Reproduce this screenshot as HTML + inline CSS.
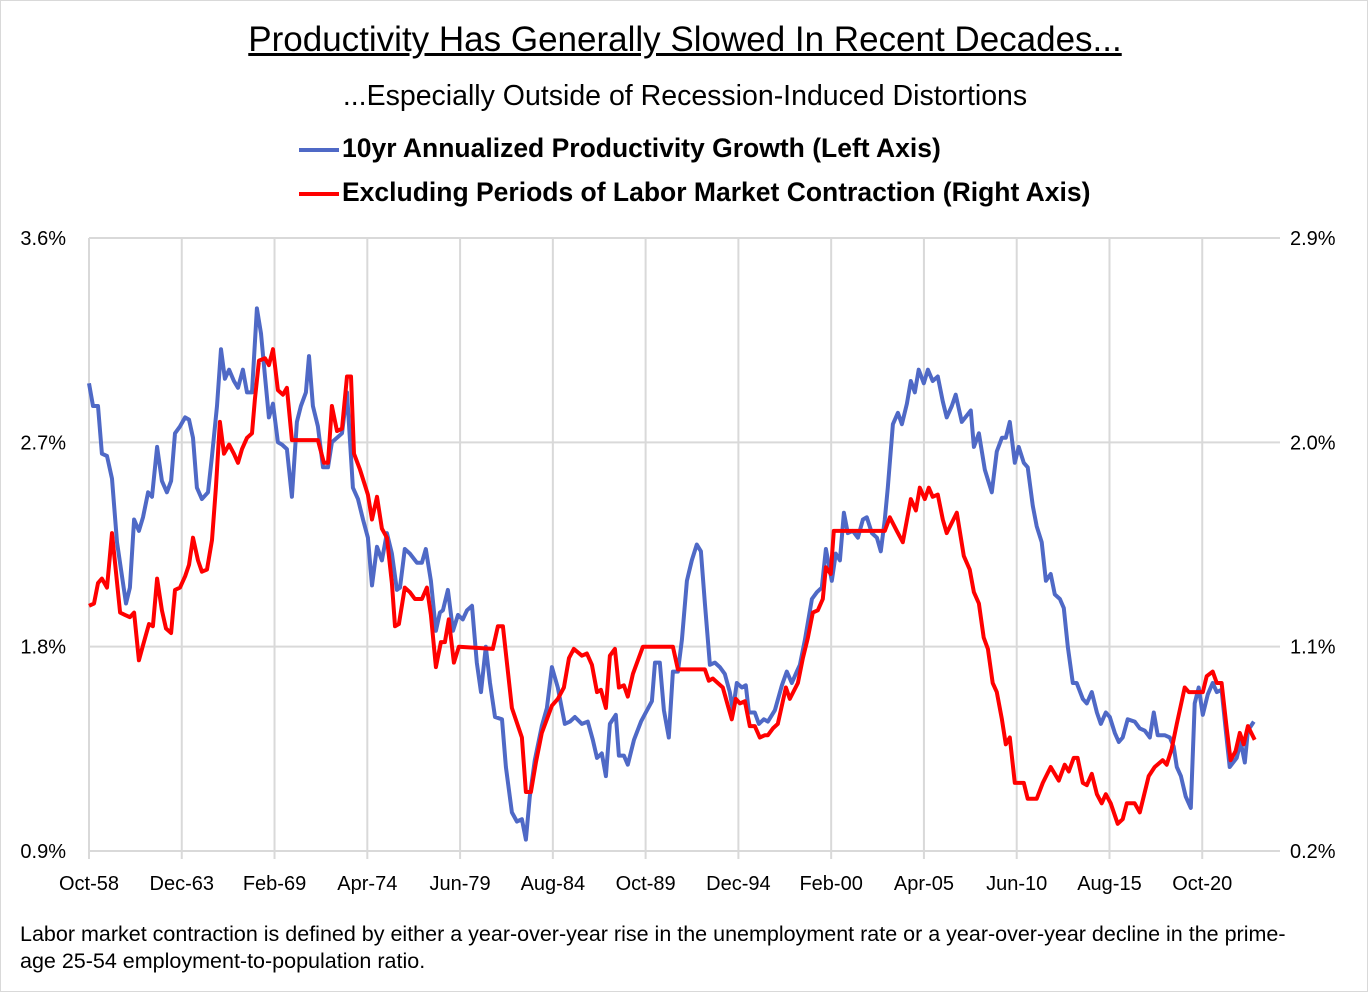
<!DOCTYPE html>
<html><head><meta charset="utf-8"><style>
body{margin:0;background:#fff;}
#wrap{position:relative;width:1366px;height:990px;border:1px solid #d9d9d9;font-family:"Liberation Sans",sans-serif;color:#000;overflow:hidden;}
.t{position:absolute;white-space:nowrap;}
</style></head><body>
<div id="wrap">
<div class="t" style="left:0;width:1368px;text-align:center;top:19px;font-size:35px;text-decoration:underline;">Productivity Has Generally Slowed In Recent Decades...</div>
<div class="t" style="left:0;width:1368px;text-align:center;top:79px;font-size:28.5px;">...Especially Outside of Recession-Induced Distortions</div>
<div class="t" style="left:298px;top:132px;font-size:26.5px;font-weight:bold;"><span style="display:inline-block;width:40px;height:4px;background:#4f69c6;vertical-align:middle;margin-right:3px;"></span>10yr Annualized Productivity Growth (Left Axis)</div>
<div class="t" style="left:298px;top:176px;font-size:26.5px;font-weight:bold;"><span style="display:inline-block;width:40px;height:4px;background:#ff0000;vertical-align:middle;margin-right:3px;"></span>Excluding Periods of Labor Market Contraction (Right Axis)</div>
<svg id="plot" width="1368" height="992" style="position:absolute;left:-1px;top:-1px;"></svg>
<div class="t" style="left:19px;top:920px;font-size:21.5px;line-height:27px;">Labor market contraction is defined by either a year-over-year rise in the unemployment rate or a year-over-year decline in the prime-<br>age 25-54 employment-to-population ratio.</div>
</div>
<script>
const xTickLabels=["Oct-58","Dec-63","Feb-69","Apr-74","Jun-79","Aug-84","Oct-89","Dec-94","Feb-00","Apr-05","Jun-10","Aug-15","Oct-20"];
const xTickYears=[1958.75,1963.917,1969.083,1974.25,1979.417,1984.583,1989.75,1994.917,2000.083,2005.25,2010.417,2015.583,2020.75];
const leftTicks=[0.9,1.8,2.7,3.6];
const rightTicks=[0.2,1.1,2.0,2.9];
const blueDates=[1958.75,1958.97,1959.25,1959.47,1959.75,1960.03,1960.31,1960.59,1960.81,1961.03,1961.26,1961.53,1961.76,1962.04,1962.26,1962.54,1962.81,1963.09,1963.32,1963.54,1963.82,1964.10,1964.32,1964.54,1964.76,1965.04,1965.38,1965.60,1965.88,1966.10,1966.32,1966.55,1966.82,1967.05,1967.32,1967.55,1967.83,1968.10,1968.33,1968.55,1968.77,1969.00,1969.27,1969.50,1969.77,1970.05,1970.33,1970.55,1970.83,1971.00,1971.22,1971.50,1971.78,1972.06,1972.28,1972.56,1972.84,1973.12,1973.45,1973.73,1974.01,1974.28,1974.51,1974.79,1975.06,1975.34,1975.62,1975.90,1976.07,1976.34,1976.62,1977.01,1977.29,1977.51,1977.79,1978.07,1978.29,1978.46,1978.74,1979.02,1979.30,1979.57,1979.80,1980.08,1980.35,1980.58,1980.85,1981.08,1981.36,1981.75,1981.97,1982.30,1982.58,1982.86,1983.08,1983.30,1983.58,1983.97,1984.25,1984.53,1984.86,1985.25,1985.53,1985.81,1986.20,1986.53,1986.81,1987.04,1987.31,1987.54,1987.76,1988.09,1988.26,1988.54,1988.76,1989.10,1989.49,1989.76,1990.10,1990.27,1990.54,1990.77,1991.04,1991.27,1991.55,1991.77,1992.05,1992.32,1992.60,1992.83,1993.05,1993.33,1993.61,1993.88,1994.16,1994.44,1994.61,1994.83,1995.11,1995.33,1995.50,1995.83,1996.06,1996.33,1996.56,1996.95,1997.34,1997.61,1997.89,1998.17,1998.34,1998.62,1999.01,1999.29,1999.56,1999.79,2000.12,2000.34,2000.57,2000.79,2001.01,2001.29,2001.57,2001.85,2002.07,2002.35,2002.63,2002.85,2003.07,2003.24,2003.52,2003.80,2004.02,2004.30,2004.52,2004.74,2004.96,2005.24,2005.47,2005.74,2006.02,2006.30,2006.52,2006.80,2007.02,2007.36,2007.86,2008.03,2008.31,2008.64,2009.03,2009.31,2009.59,2009.81,2010.03,2010.31,2010.53,2010.81,2011.03,2011.31,2011.53,2011.81,2012.04,2012.31,2012.54,2012.82,2013.04,2013.26,2013.54,2013.76,2014.10,2014.32,2014.60,2014.88,2015.10,2015.38,2015.60,2015.88,2016.10,2016.32,2016.60,2016.99,2017.27,2017.55,2017.83,2018.05,2018.27,2018.66,2018.94,2019.16,2019.33,2019.56,2019.83,2020.11,2020.33,2020.55,2020.78,2021.06,2021.33,2021.56,2021.83,2022.06,2022.28,2022.67,2022.89,2023.12,2023.29,2023.62];
const blueValues=[2.96,2.86,2.86,2.65,2.64,2.54,2.26,2.11,1.99,2.06,2.36,2.31,2.37,2.48,2.46,2.68,2.53,2.48,2.53,2.74,2.77,2.81,2.80,2.72,2.50,2.45,2.48,2.64,2.86,3.11,2.98,3.02,2.97,2.94,3.02,2.92,2.92,3.29,3.18,2.99,2.81,2.87,2.70,2.69,2.67,2.46,2.79,2.86,2.92,3.08,2.86,2.77,2.59,2.59,2.70,2.72,2.74,2.92,2.50,2.45,2.36,2.28,2.07,2.24,2.18,2.30,2.21,2.05,2.06,2.23,2.21,2.17,2.17,2.23,2.09,1.87,1.95,1.96,2.05,1.87,1.94,1.92,1.96,1.98,1.73,1.60,1.80,1.64,1.49,1.48,1.27,1.07,1.03,1.04,0.95,1.14,1.30,1.45,1.53,1.71,1.62,1.46,1.47,1.49,1.46,1.47,1.39,1.31,1.33,1.23,1.46,1.50,1.32,1.32,1.28,1.39,1.47,1.51,1.56,1.73,1.73,1.52,1.40,1.69,1.69,1.83,2.09,2.18,2.25,2.22,1.99,1.72,1.73,1.71,1.68,1.60,1.52,1.64,1.62,1.63,1.51,1.51,1.46,1.48,1.47,1.52,1.63,1.69,1.64,1.69,1.72,1.83,2.01,2.04,2.06,2.23,2.09,2.21,2.18,2.39,2.30,2.31,2.28,2.36,2.37,2.30,2.28,2.22,2.36,2.50,2.78,2.83,2.78,2.87,2.97,2.92,3.02,2.96,3.02,2.97,2.99,2.88,2.81,2.86,2.91,2.79,2.84,2.68,2.74,2.58,2.48,2.66,2.72,2.72,2.79,2.61,2.68,2.61,2.59,2.42,2.33,2.26,2.09,2.12,2.03,2.01,1.97,1.80,1.64,1.64,1.57,1.55,1.60,1.51,1.46,1.51,1.49,1.42,1.38,1.40,1.48,1.47,1.44,1.43,1.40,1.51,1.41,1.41,1.40,1.36,1.27,1.23,1.14,1.09,1.55,1.62,1.50,1.59,1.64,1.60,1.61,1.43,1.27,1.31,1.38,1.29,1.43,1.47];
const redDates=[1958.75,1959.03,1959.25,1959.47,1959.75,1960.03,1960.48,1960.75,1961.03,1961.26,1961.53,1961.81,1962.09,1962.31,1962.54,1962.81,1963.04,1963.32,1963.54,1963.82,1964.10,1964.32,1964.54,1964.82,1965.04,1965.32,1965.60,1965.82,1966.04,1966.27,1966.55,1966.82,1967.05,1967.27,1967.55,1967.83,1967.99,1968.22,1968.55,1968.77,1969.00,1969.27,1969.55,1969.77,1970.05,1971.50,1971.83,1972.06,1972.28,1972.56,1972.84,1973.12,1973.34,1973.51,1973.84,1974.28,1974.51,1974.79,1975.06,1975.34,1975.62,1975.79,1976.01,1976.34,1976.62,1976.90,1977.29,1977.57,1977.79,1978.07,1978.35,1978.57,1978.79,1979.07,1979.35,1981.24,1981.52,1981.80,1982.30,1982.86,1983.08,1983.36,1983.64,1983.97,1984.53,1984.86,1985.20,1985.48,1985.75,1986.20,1986.48,1986.76,1987.04,1987.26,1987.54,1987.76,1988.04,1988.26,1988.54,1988.76,1989.04,1989.60,1990.54,1991.27,1991.55,1993.05,1993.27,1993.49,1994.05,1994.33,1994.55,1994.77,1995.00,1995.28,1995.55,1995.83,1996.11,1996.39,1996.56,1996.84,1997.11,1997.56,1997.78,1998.23,1998.51,1998.79,1999.06,1999.34,1999.62,1999.79,2000.06,2000.23,2003.07,2003.35,2003.74,2004.07,2004.52,2004.80,2005.02,2005.30,2005.52,2005.74,2006.02,2006.30,2006.52,2007.08,2007.47,2007.80,2008.03,2008.31,2008.58,2008.81,2009.08,2009.31,2009.59,2009.81,2010.03,2010.31,2010.81,2011.03,2011.53,2011.87,2012.31,2012.76,2013.09,2013.32,2013.59,2013.81,2014.10,2014.32,2014.60,2014.88,2015.15,2015.38,2015.65,2016.04,2016.32,2016.55,2016.99,2017.27,2017.49,2017.77,2018.10,2018.55,2018.77,2019.05,2019.33,2019.77,2020.00,2020.78,2021.00,2021.33,2021.56,2021.83,2022.11,2022.33,2022.61,2022.84,2023.06,2023.29,2023.67];
const redValues=[1.28,1.29,1.38,1.40,1.36,1.60,1.25,1.24,1.23,1.25,1.04,1.12,1.20,1.19,1.40,1.26,1.18,1.16,1.35,1.36,1.41,1.46,1.58,1.48,1.43,1.44,1.57,1.80,2.09,1.95,1.99,1.95,1.91,1.97,2.02,2.04,2.19,2.36,2.37,2.34,2.41,2.23,2.21,2.24,2.01,2.01,1.91,1.91,2.16,2.05,2.06,2.29,2.29,1.95,1.88,1.77,1.66,1.76,1.62,1.58,1.38,1.19,1.20,1.36,1.34,1.31,1.31,1.36,1.24,1.01,1.12,1.12,1.22,1.03,1.10,1.09,1.19,1.19,0.83,0.70,0.46,0.46,0.59,0.72,0.84,0.87,0.92,1.05,1.09,1.06,1.07,1.02,0.90,0.91,0.83,1.06,1.09,0.92,0.93,0.88,0.98,1.10,1.10,1.10,1.00,1.00,0.95,0.96,0.92,0.84,0.78,0.87,0.85,0.86,0.75,0.75,0.70,0.71,0.71,0.74,0.76,0.92,0.87,0.94,1.05,1.14,1.25,1.26,1.31,1.45,1.42,1.61,1.61,1.67,1.61,1.56,1.75,1.70,1.80,1.75,1.80,1.76,1.77,1.66,1.60,1.69,1.50,1.44,1.34,1.29,1.14,1.09,0.94,0.90,0.78,0.67,0.70,0.50,0.50,0.43,0.43,0.50,0.57,0.51,0.58,0.55,0.61,0.61,0.50,0.49,0.54,0.45,0.41,0.45,0.41,0.32,0.34,0.41,0.41,0.37,0.44,0.53,0.57,0.60,0.58,0.65,0.76,0.92,0.90,0.90,0.97,0.99,0.94,0.94,0.74,0.60,0.64,0.72,0.67,0.75,0.69];

const svg=document.getElementById('plot');
const NS='http://www.w3.org/2000/svg';
const X0=89,X1=1280,Y0=851,Y1=238,D0=1958.75,D1=2025.08;
const xs=d=>X0+(d-D0)/(D1-D0)*(X1-X0);
const yL=v=>Y0-(v-0.9)/(3.6-0.9)*(Y0-Y1);
const yR=v=>Y0-(v-0.2)/(2.9-0.2)*(Y0-Y1);
function mk(tag,attrs){const e=document.createElementNS(NS,tag);for(const k in attrs)e.setAttribute(k,attrs[k]);svg.appendChild(e);return e;}
leftTicks.forEach((v,i)=>{
  const g=mk('line',{x1:X0,x2:X1,y1:yL(v),y2:yL(v),stroke:'#d9d9d9','stroke-width':2});
  
  
  const t=mk('text',{x:66,y:yL(v)+7,'text-anchor':'end','font-size':20,'font-family':'Liberation Sans, sans-serif'});
  t.textContent=v.toFixed(1)+'%';
  
  
  const r=mk('text',{x:1290,y:yR(rightTicks[i])+7,'text-anchor':'start','font-size':20,'font-family':'Liberation Sans, sans-serif'});
  r.textContent=rightTicks[i].toFixed(1)+'%';
  
  
});
xTickYears.forEach((d,i)=>{
  const g=mk('line',{x1:xs(d),x2:xs(d),y1:Y1,y2:Y0+8,stroke:'#d9d9d9','stroke-width':2});
  
  
  const t=mk('text',{x:xs(d),y:890,'text-anchor':'middle','font-size':20,'font-family':'Liberation Sans, sans-serif'});
  t.textContent=xTickLabels[i];
  
  
});
const bp=blueDates.map((d,i)=>xs(d).toFixed(1)+','+yL(blueValues[i]).toFixed(1)).join(' ');
const bl=mk('polyline',{points:bp,fill:'none',stroke:'#4f69c6','stroke-width':4,'stroke-linejoin':'round'});


const rp=redDates.map((d,i)=>xs(d).toFixed(1)+','+yR(redValues[i]).toFixed(1)).join(' ');
const rl=mk('polyline',{points:rp,fill:'none',stroke:'#ff0000','stroke-width':4,'stroke-linejoin':'round'});


</script>
</body></html>
